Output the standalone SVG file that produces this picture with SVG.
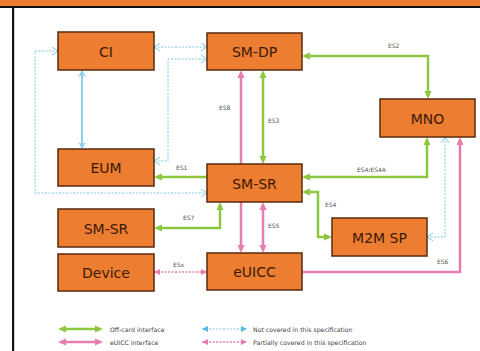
<svg xmlns="http://www.w3.org/2000/svg" width="480" height="351" viewBox="0 0 480 351">
<defs>
<style>
.box{fill:#ED7D31;stroke:#5A2A0A;stroke-width:1.5}
.nt{font-family:"DejaVu Sans",Verdana,sans-serif;font-size:14px;fill:#3A1A06;text-anchor:middle}
.lb{font-family:"DejaVu Sans",Verdana,sans-serif;font-size:6px;fill:#555}
.lg{font-family:"DejaVu Sans",Verdana,sans-serif;font-size:6.2px;fill:#444}
.g{fill:none;stroke:#8DC63F;stroke-width:2.5}
.p{fill:none;stroke:#E77DAE;stroke-width:2.5}
.pd{fill:none;stroke:#E77DAE;stroke-width:1.5;stroke-dasharray:2 1.5}
.bd{fill:none;stroke:#7CC8E8;stroke-width:1;stroke-dasharray:2 1.5}
.bs{fill:none;stroke:#8FD0EC;stroke-width:2}
</style>
<marker id="ga" markerUnits="userSpaceOnUse" markerWidth="9" markerHeight="8" refX="5" refY="4" orient="auto-start-reverse"><path d="M0,0.5 L8,4 L0,7.5z" fill="#8DC63F"/></marker>
<marker id="pa" markerUnits="userSpaceOnUse" markerWidth="9" markerHeight="8" refX="5" refY="4" orient="auto-start-reverse"><path d="M0,0.5 L8,4 L0,7.5z" fill="#E77DAE"/></marker>
<marker id="psa" markerUnits="userSpaceOnUse" markerWidth="7" markerHeight="7" refX="6" refY="3.5" orient="auto-start-reverse"><path d="M0,0.5 L6,3.5 L0,6.5z" fill="#E77DAE"/></marker>
<marker id="bc" markerUnits="userSpaceOnUse" markerWidth="8" markerHeight="9" refX="6.5" refY="4.5" orient="auto-start-reverse"><path d="M0.5,0.5 L6.5,4.5 L0.5,8.5" fill="none" stroke="#7CC8E8" stroke-width="1"/></marker>
<marker id="bsa" markerUnits="userSpaceOnUse" markerWidth="9" markerHeight="9" refX="6" refY="4.5" orient="auto-start-reverse"><path d="M0,0.5 L7,4.5 L0,8.5 L2,4.5z" fill="#8FD0EC"/></marker>
<marker id="bfa" markerUnits="userSpaceOnUse" markerWidth="7" markerHeight="7" refX="6" refY="3.5" orient="auto-start-reverse"><path d="M0,0.5 L6,3.5 L0,6.5z" fill="#5BB8E0"/></marker>
</defs>
<rect x="0" y="0" width="480" height="351" fill="#fff"/>
<g id="frame">
<rect x="0" y="0" width="480" height="6.5" fill="#ED7D31"/>
<rect x="0" y="6" width="480" height="2" fill="#111"/>
<rect x="12" y="6" width="2.2" height="345" fill="#111"/>
</g>
<g id="connectors">
<path class="g" d="M305 56 H428 V96" marker-start="url(#ga)" marker-end="url(#ga)"/>
<path class="g" d="M263 73 V161" marker-start="url(#ga)" marker-end="url(#ga)"/>
<path class="g" d="M207 177 H157" marker-end="url(#ga)"/>
<path class="g" d="M220 205 V228 H157" marker-start="url(#ga)" marker-end="url(#ga)"/>
<path class="g" d="M427 140 V177 H305" marker-start="url(#ga)" marker-end="url(#ga)"/>
<path class="g" d="M305 192 H318 V237 H329" marker-start="url(#ga)" marker-end="url(#ga)"/>
<path class="p" d="M241 73 V250" marker-start="url(#pa)" marker-end="url(#pa)"/>
<path class="p" d="M263 205 V250" marker-start="url(#pa)" marker-end="url(#pa)"/>
<path class="p" d="M302 272 H460 V140" marker-end="url(#pa)"/>
<path class="pd" d="M154 272 H207" marker-start="url(#psa)" marker-end="url(#psa)"/>
<path class="bd" d="M154 47 H207" marker-start="url(#bc)" marker-end="url(#bc)"/>
<path class="bd" d="M154 161 H168 V59 H207" marker-start="url(#bc)" marker-end="url(#bc)"/>
<path class="bd" d="M58 51 H35 V193 H207" marker-start="url(#bc)" marker-end="url(#bc)"/>
<path class="bs" d="M82 71 V148" marker-start="url(#bsa)" marker-end="url(#bsa)"/>
<path class="bd" d="M427 237 H445 V137" marker-start="url(#bc)" marker-end="url(#bc)"/>
<text class="lb" x="388" y="48">ES2</text>
<text class="lb" x="268" y="123">ES3</text>
<text class="lb" x="219" y="110">ES8</text>
<text class="lb" x="176" y="170">ES1</text>
<text class="lb" x="183" y="220">ES7</text>
<text class="lb" x="268" y="228">ES5</text>
<text class="lb" x="173" y="267">ESx</text>
<text class="lb" x="357" y="172">ES4/ES4A</text>
<text class="lb" x="325" y="207">ES4</text>
<text class="lb" x="437" y="264">ES6</text>
</g>
<g id="CI"><rect class="box" x="58" y="32" width="96" height="38"/><text class="nt" x="106" y="56.5">CI</text></g>
<g id="SM-DP"><rect class="box" x="207" y="33" width="95" height="37"/><text class="nt" x="254.5" y="57">SM-DP</text></g>
<g id="MNO"><rect class="box" x="380" y="99" width="95" height="38"/><text class="nt" x="427.5" y="123.5">MNO</text></g>
<g id="EUM"><rect class="box" x="58" y="149" width="96" height="37"/><text class="nt" x="106" y="173">EUM</text></g>
<g id="SM-SR"><rect class="box" x="207" y="164" width="95" height="38"/><text class="nt" x="254.5" y="188.5">SM-SR</text></g>
<g id="SM-SR-2"><rect class="box" x="58" y="209" width="96" height="38"/><text class="nt" x="106" y="233.5">SM-SR</text></g>
<g id="M2M-SP"><rect class="box" x="332" y="218" width="95" height="38"/><text class="nt" x="379.5" y="242.5">M2M SP</text></g>
<g id="Device"><rect class="box" x="58" y="254" width="96" height="37"/><text class="nt" x="106" y="278">Device</text></g>
<g id="eUICC"><rect class="box" x="207" y="253" width="95" height="37"/><text class="nt" x="254.5" y="277">eUICC</text></g>
<g id="legend">
<path class="g" d="M61 329 H100" marker-start="url(#ga)" marker-end="url(#ga)"/>
<path class="p" d="M61 342 H100" marker-start="url(#pa)" marker-end="url(#pa)"/>
<path class="bd" d="M202 329 H247" marker-start="url(#bfa)" marker-end="url(#bfa)"/>
<path class="pd" d="M202 342 H247" marker-start="url(#psa)" marker-end="url(#psa)"/>
<text class="lg" x="110" y="331.5">Off-card interface</text>
<text class="lg" x="110" y="344.5">eUICC interface</text>
<text class="lg" x="253" y="331.5">Not covered in this specification</text>
<text class="lg" x="253" y="344.5">Partially covered in this specification</text>
</g>
</svg>
